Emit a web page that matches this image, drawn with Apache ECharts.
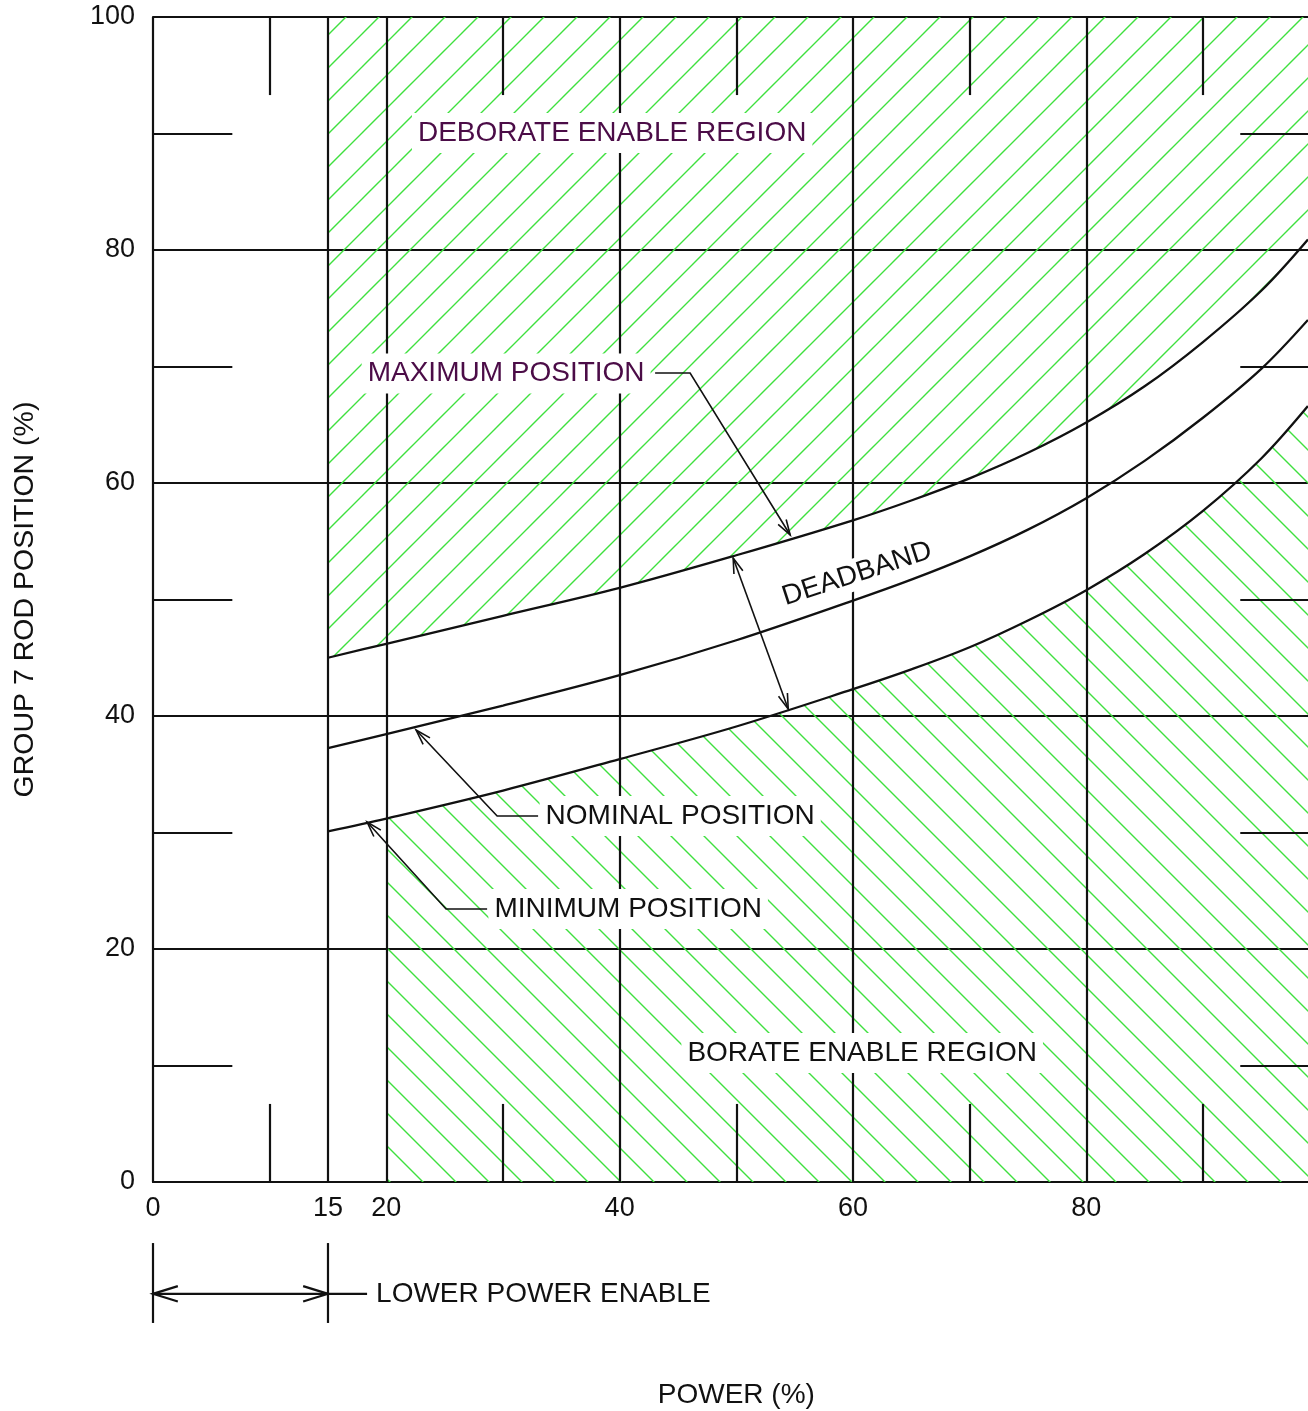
<!DOCTYPE html>
<html><head><meta charset="utf-8">
<script src="https://cdn.jsdelivr.net/npm/echarts@6/dist/echarts.min.js"></script>
<style>html,body{margin:0;padding:0;background:#fff}#c{width:1308px;height:1411px}</style>
</head><body><div id="c"></div>
<script>
// ---------- data ----------
const power            = [15,   20,   30,   40,   50,   60,   65,   70,   75,   80,   85,   90,   95,   99];
const maxPosition      = [45.0, 46.2, 48.6, 51.0, 53.8, 56.8, 58.5, 60.4, 62.6, 65.2, 68.3, 72.1, 76.5, 80.9];
const nominalPosition  = [37.25,38.45,40.9, 43.5, 46.5, 49.9, 51.7, 53.7, 56.0, 58.7, 61.9, 65.6, 69.8, 74.0];
const minimumPosition  = [30.1, 31.2, 33.6, 36.3, 39.1, 42.3, 44.0, 45.9, 48.2, 50.8, 53.9, 57.6, 62.1, 66.6];
const xTickLabels = [0, 15, 20, 40, 60, 80];
const yTickLabels = [0, 20, 40, 60, 80, 100];
const xFullGrid   = [15, 20, 40, 60, 80];
const xShortTicks = [10, 30, 50, 70, 90];
const yShortTicks = [10, 30, 50, 70, 90];
const boratePowerStart = 20;

// ---------- rendering ----------
const FONT = '"Liberation Sans", Arial, Helvetica, sans-serif';
const INK = '#111';
const PURPLE = '#4b0c47';
const GREEN = '#3fe03f';

function hatch(dir) {
  const s = 33, c = document.createElement('canvas');
  c.width = s; c.height = s;
  const g = c.getContext('2d');
  g.strokeStyle = GREEN; g.lineWidth = 1.4; g.beginPath();
  if (dir > 0) { // "/"
    g.moveTo(-2, s + 2); g.lineTo(s + 2, -2);
    g.moveTo(-2, 2); g.lineTo(2, -2);
    g.moveTo(s - 2, s + 2); g.lineTo(s + 2, s - 2);
  } else { // "\"
    g.moveTo(-2, -2); g.lineTo(s + 2, s + 2);
    g.moveTo(s - 2, -2); g.lineTo(s + 2, 2);
    g.moveTo(-2, s - 2); g.lineTo(2, s + 2);
  }
  g.stroke();
  return { image: c, repeat: 'repeat' };
}

const pair = (xs, ys) => xs.map((x, i) => [x, ys[i]]);
const maxData = pair(power, maxPosition);
const nomData = pair(power, nominalPosition);
const minData = pair(power, minimumPosition);
const borateStart = power.indexOf(boratePowerStart);
const lowerAreaData = minData.slice(borateStart);
const SMOOTH = 0.35;

const gridSegs = [];
xFullGrid.forEach(x => gridSegs.push({ coords: [[x, 0], [x, 100]] }));
xShortTicks.forEach(x => { gridSegs.push({ coords: [[x, 100], [x, 93.3]] }); gridSegs.push({ coords: [[x, 0], [x, 6.7]] }); });
yShortTicks.forEach(y => { gridSegs.push({ coords: [[0, y], [6.8, y]] }); gridSegs.push({ coords: [[93.2, y], [100, y]] }); });

const leaders = [
  { pts: [[43.04, 69.44], [46.04, 69.44], [54.62, 55.54]], end: true },
  { pts: [[49.73, 53.56], [54.45, 40.6]], start: true, end: true },
  { pts: [[33.01, 31.42], [29.5, 31.42], [22.55, 38.8]], end: true },
  { pts: [[28.64, 23.43], [25.12, 23.43], [18.35, 30.9]], end: true },
  { pts: [[0, -5.24], [0, -12.1]], w: 2.2 },
  { pts: [[15, -5.24], [15, -12.1]], w: 2.2 },
  { pts: [[0, -9.6], [15, -9.6]], start: true, end: true, w: 2.2, head: 26 },
  { pts: [[15, -9.6], [18.35, -9.6]], w: 2.2 }
];
const texts = [
  { text: 'DEBORATE ENABLE REGION', at: [39.36, 90.04], color: PURPLE },
  { text: 'MAXIMUM POSITION', at: [30.27, 69.4], color: PURPLE },
  { text: 'DEADBAND', at: [60.36, 52.2], rotate: 18, pad: [2, 3] },
  { text: 'NOMINAL POSITION', at: [45.19, 31.42] },
  { text: 'MINIMUM POSITION', at: [40.73, 23.43] },
  { text: 'BORATE ENABLE REGION', at: [60.79, 11.07] },
  { text: 'LOWER POWER ENABLE', at: [19.12, -9.6], align: 'left', nobg: true }
];

function arrowHead(tip, from, w, len) {
  const dx = tip[0] - from[0], dy = tip[1] - from[1];
  const L = Math.hypot(dx, dy) || 1, ux = dx / L, uy = dy / L;
  const a = 0.3;
  const mk = s => {
    const ca = Math.cos(s * a), sa = Math.sin(s * a);
    const rx = ux * ca - uy * sa, ry = ux * sa + uy * ca;
    return [tip[0] - rx * len, tip[1] - ry * len];
  };
  return { type: 'polyline', shape: { points: [mk(1), tip, mk(-1)] },
           style: { stroke: INK, lineWidth: w, fill: null } };
}

const chart = echarts.init(document.getElementById('c'), null, { renderer: 'canvas' });
chart.setOption({
  backgroundColor: '#fff',
  animation: false,
  grid: { left: 153, top: 17, width: 1166.6, height: 1165, containLabel: false, outerBoundsMode: 'none' },
  xAxis: {
    type: 'value', min: 0, max: 100, interval: 5,
    name: 'POWER (%)', nameLocation: 'middle', nameGap: 199,
    nameTextStyle: { fontFamily: FONT, fontSize: 28, color: INK },
    axisLine: { show: true, lineStyle: { color: INK, width: 2.2 } },
    axisTick: { show: false }, splitLine: { show: false },
    axisLabel: { margin: 13, fontFamily: FONT, fontSize: 27, color: INK,
      formatter: v => xTickLabels.indexOf(Math.round(v)) >= 0 && Math.abs(v - Math.round(v)) < 1e-6 ? String(Math.round(v)) : '' }
  },
  yAxis: {
    type: 'value', min: 0, max: 100, interval: 20,
    name: 'GROUP 7 ROD POSITION (%)', nameLocation: 'middle', nameGap: 113,
    nameTextStyle: { fontFamily: FONT, fontSize: 28.5, color: INK },
    axisLine: { show: true, lineStyle: { color: INK, width: 2.2 } },
    axisTick: { show: false },
    splitLine: { show: true, lineStyle: { color: INK, width: 2.2 } },
    axisLabel: { margin: 18, fontFamily: FONT, fontSize: 27, color: INK,
      formatter: v => yTickLabels.indexOf(v) >= 0 ? String(v) : '' }
  },
  series: [
    { type: 'line', name: 'deborate', data: maxData, smooth: SMOOTH, symbol: 'none', silent: true,
      lineStyle: { width: 0 }, areaStyle: { origin: 'end', color: hatch(1), opacity: 1 }, z: 1 },
    { type: 'line', name: 'borate', data: lowerAreaData, smooth: SMOOTH, symbol: 'none', silent: true,
      lineStyle: { width: 0 }, areaStyle: { origin: 'start', color: hatch(-1), opacity: 1 }, z: 1 },
    { type: 'lines', coordinateSystem: 'cartesian2d', data: gridSegs, silent: true,
      lineStyle: { color: INK, width: 2.2, opacity: 1 }, z: 2 },
    { type: 'line', name: 'max', data: maxData, smooth: SMOOTH, symbol: 'none', silent: true,
      lineStyle: { color: INK, width: 2.3 }, z: 3 },
    { type: 'line', name: 'nominal', data: nomData, smooth: SMOOTH, symbol: 'none', silent: true,
      lineStyle: { color: INK, width: 2.3 }, z: 3 },
    { type: 'line', name: 'min', data: minData, smooth: SMOOTH, symbol: 'none', silent: true,
      lineStyle: { color: INK, width: 2.3 }, z: 3 },
    { type: 'custom', name: 'leaders', silent: true, clip: false, z: 4,
      data: leaders.map((_, i) => [0, 0, i]),
      renderItem: (params, api) => {
        const L = leaders[params.dataIndex];
        const pts = L.pts.map(p => api.coord(p));
        const w = L.w || 1.6, len = L.head || 16;
        const ch = [{ type: 'polyline', shape: { points: pts }, style: { stroke: INK, lineWidth: w, fill: null } }];
        if (L.end) ch.push(arrowHead(pts[pts.length - 1], pts[pts.length - 2], w, len));
        if (L.start) ch.push(arrowHead(pts[0], pts[1], w, len));
        return { type: 'group', children: ch };
      } },
    { type: 'custom', name: 'texts', silent: true, clip: false, z: 5,
      data: texts.map((_, i) => [0, 0, i]),
      renderItem: (params, api) => {
        const T = texts[params.dataIndex];
        const p = api.coord(T.at);
        return { type: 'text', x: p[0], y: p[1], rotation: (T.rotate || 0) * Math.PI / 180,
          style: { text: T.text, x: 0, y: 0, fill: T.color || INK,
            font: '28px ' + FONT, align: T.align || 'center', verticalAlign: 'middle',
            backgroundColor: T.nobg ? null : '#fff', padding: T.nobg ? 0 : (T.pad || [6, 6]) } };
      } }
  ]
});
</script></body></html>
